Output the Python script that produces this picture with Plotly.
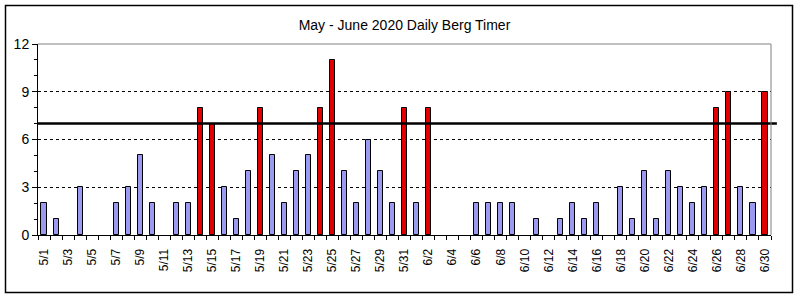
import plotly.graph_objects as go

dates = ["5/1","5/2","5/3","5/4","5/5","5/6","5/7","5/8","5/9","5/10",
         "5/11","5/12","5/13","5/14","5/15","5/16","5/17","5/18","5/19","5/20",
         "5/21","5/22","5/23","5/24","5/25","5/26","5/27","5/28","5/29","5/30","5/31",
         "6/1","6/2","6/3","6/4","6/5","6/6","6/7","6/8","6/9","6/10",
         "6/11","6/12","6/13","6/14","6/15","6/16","6/17","6/18","6/19","6/20",
         "6/21","6/22","6/23","6/24","6/25","6/26","6/27","6/28","6/29","6/30"]
values = [2,1,0,3,0,0,2,3,5,2,
          0,2,2,8,7,3,1,4,8,5,
          2,4,5,8,11,4,2,6,4,2,8,
          2,8,0,0,0,2,2,2,2,0,
          1,0,1,2,1,2,0,3,1,4,
          1,4,3,2,3,8,9,3,2,9]
threshold = 7
title = "May - June 2020 Daily Berg Timer"

idx = list(range(len(dates)))
colors = ["#e00000" if v >= threshold else "#9a9af0" for v in values]
line_widths = [1 if v > 0 else 0 for v in values]

fig = go.Figure()
fig.add_trace(go.Bar(
    x=idx, y=values, width=0.42,
    marker=dict(color=colors, line=dict(color="black", width=line_widths)),
    showlegend=False,
))

fig.update_layout(
    width=798, height=298,
    margin=dict(l=38, r=27, t=44, b=63),
    paper_bgcolor="white", plot_bgcolor="white",
    title=dict(text=title, x=0.5, xref="paper", xanchor="center",
               y=1 - 25/298, yanchor="middle",
               font=dict(family="Liberation Sans, Arial", size=14, color="black")),
    font=dict(family="Liberation Sans, Arial", color="black"),
    bargap=0,
)
fig.update_xaxes(
    range=[-0.5, len(dates) - 0.5],
    tickmode="array", tickvals=idx[::2], ticktext=dates[::2],
    tickangle=-90, tickfont=dict(size=12),
    ticks="", ticklabelstandoff=8, showgrid=False, zeroline=False,
    showline=True, linecolor="black", linewidth=1,
    minor=dict(tickmode="array", tickvals=[i - 0.5 for i in range(len(dates) + 1)],
               ticks="outside", ticklen=4, tickcolor="black", showgrid=False),
)
fig.update_yaxes(
    range=[0, 12], tickvals=[0, 3, 6, 9, 12],
    tickfont=dict(size=14),
    ticks="outside", ticklen=5, tickcolor="black",
    showgrid=True, gridcolor="black", griddash="3px,3px", gridwidth=1,
    zeroline=False, showline=True, linecolor="black", linewidth=1,
    minor=dict(dtick=1, ticks="outside", ticklen=3, tickcolor="black", showgrid=False),
)

# threshold line
fig.add_shape(type="line", xref="paper", yref="y", x0=0, x1=1.008,
              y0=threshold, y1=threshold, line=dict(color="black", width=2.5), layer="above")
# plot-area border (top and right in gray)
fig.add_shape(type="line", xref="paper", yref="paper", x0=0, x1=1, y0=1, y1=1,
              line=dict(color="#808080", width=1), layer="above")
fig.add_shape(type="line", xref="paper", yref="paper", x0=1, x1=1, y0=0, y1=1,
              line=dict(color="#808080", width=1), layer="above")
# outer chart border
fig.add_shape(type="rect", xref="paper", yref="paper",
              x0=(5.5 - 38) / 733, x1=(792.5 - 38) / 733,
              y0=(235 - 292.5) / 191, y1=(235 - 5.5) / 191,
              line=dict(color="black", width=1.5), layer="above")

fig.write_html("out.html")
